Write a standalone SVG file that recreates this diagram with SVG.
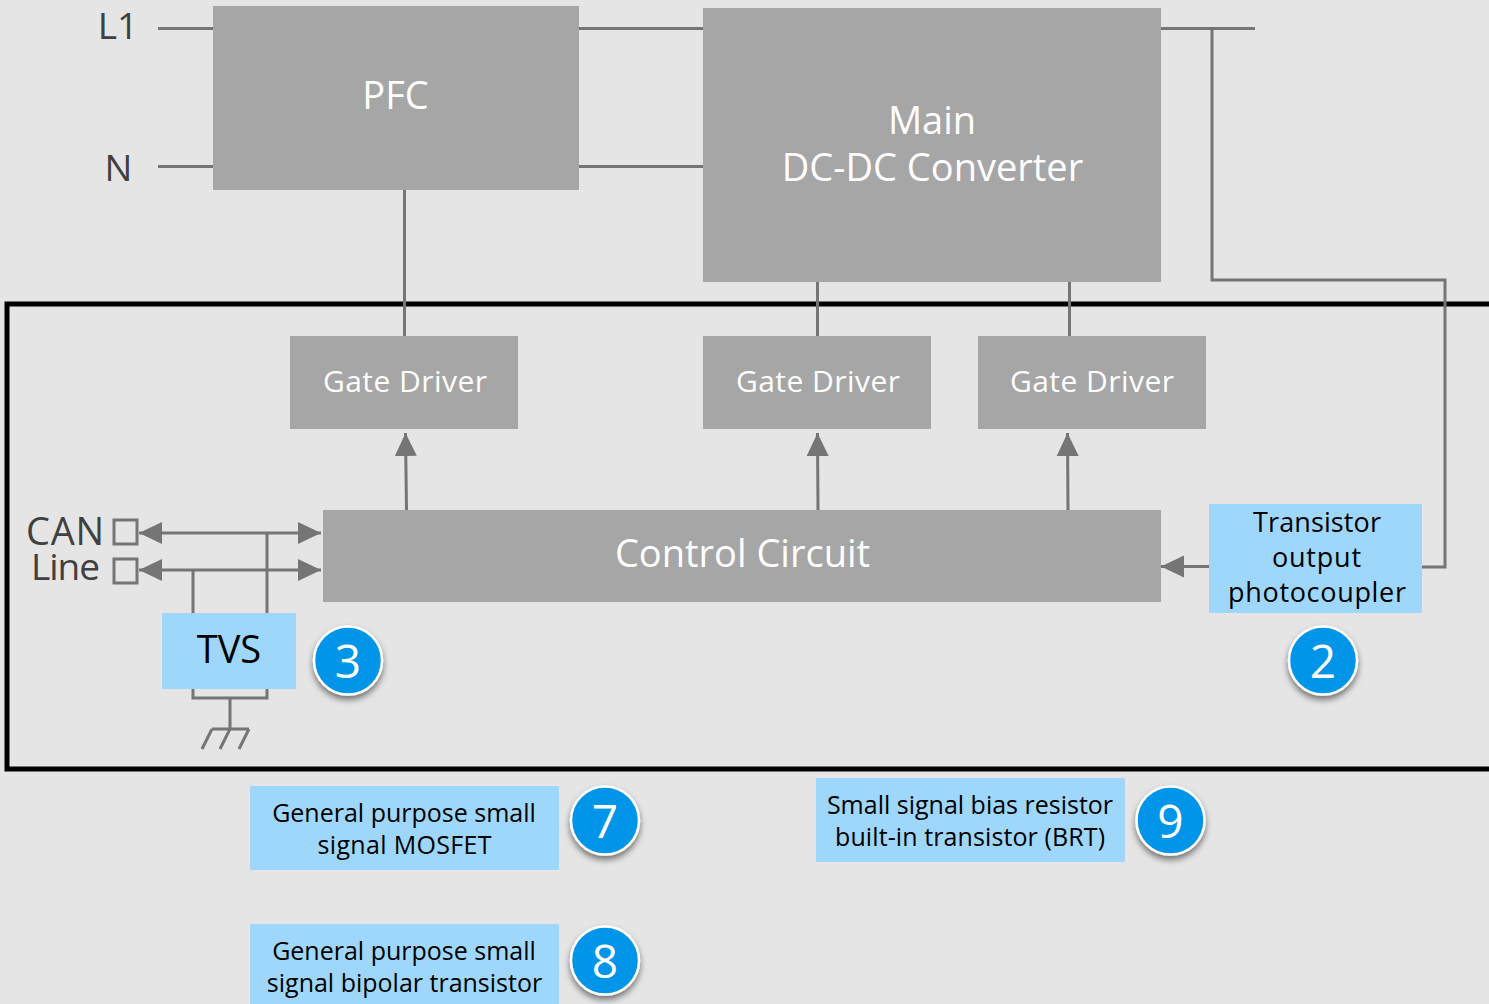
<svg xmlns="http://www.w3.org/2000/svg" width="1489" height="1004" viewBox="0 0 1489 1004">
<style>
text{font-family:"Open Sans","Noto Sans","Liberation Sans",sans-serif;text-anchor:middle}
.g{fill:#a6a6a6}
.b{fill:#9fd7fb}
.w{fill:#fff}
.k{fill:#000}
.d{fill:#404040}
.l{fill:none;stroke:#757575;stroke-width:3;stroke-linejoin:miter}
.c{fill:#0095e8;stroke:#fff;stroke-width:2.5;filter:url(#sh)}
</style>
<defs>
<filter id="sh" x="-30%" y="-30%" width="160%" height="170%"><feDropShadow dx="0" dy="4" stdDeviation="3" flood-color="#000" flood-opacity="0.5"/></filter>
<marker id="a" markerUnits="userSpaceOnUse" markerWidth="24" markerHeight="24" refX="23" refY="12" orient="auto-start-reverse"><path d="M0 1L23 12L0 23Z" fill="#757575"/></marker>
</defs>
<rect width="1489" height="1004" fill="#e5e5e5"/>
<rect id="frame" x="7" y="304" width="1500" height="465" fill="none" stroke="#000" stroke-width="5"/>
<g id="connectors">
<path class="l" d="M158 28.500H213M158 166.500H213M579 28.500H703M579 166.500H703M1161 28.500H1255M1212 28.500V280H1445V567H1422M404.500 190V336M817.500 282V336M1069.500 282V336"/>
<path class="l" d="M406.500 510L405.500 433" marker-end="url(#a)"/>
<path class="l" d="M818 510L817.500 433" marker-end="url(#a)"/>
<path class="l" d="M1068 510L1067.500 433" marker-end="url(#a)"/>
<path class="l" d="M1209 566.500H1161" marker-end="url(#a)"/>
<path class="l" d="M139 533H321" marker-start="url(#a)" marker-end="url(#a)"/>
<path class="l" d="M139 570H321" marker-start="url(#a)" marker-end="url(#a)"/>
<path class="l" d="M193 570V613M267 533V613M193 689V698H267V689M230 698V729M212 729H249M212 729L202 749M230 729L220 749M249 729L239 749"/>
<rect class="l" x="114" y="520" width="23" height="24"/>
<rect class="l" x="114" y="559" width="23" height="24"/>
</g>
<g id="pfc"><rect class="g" x="213" y="6" width="366" height="184"/><text class="w" x="395.500" y="109" font-size="38">PFC</text></g>
<g id="main"><rect class="g" x="703" y="8" width="458" height="274"/><text class="w" x="932" y="133.500" font-size="38">Main</text><text class="w" x="932.500" y="180.500" font-size="38">DC-DC Converter</text></g>
<g id="gd1"><rect class="g" x="290" y="336" width="228" height="93"/><text class="w" x="405" y="392" font-size="30" textLength="164" lengthAdjust="spacing">Gate Driver</text></g>
<g id="gd2"><rect class="g" x="703" y="336" width="228" height="93"/><text class="w" x="818" y="392" font-size="30" textLength="164" lengthAdjust="spacing">Gate Driver</text></g>
<g id="gd3"><rect class="g" x="978" y="336" width="228" height="93"/><text class="w" x="1092" y="392" font-size="30" textLength="164" lengthAdjust="spacing">Gate Driver</text></g>
<g id="control"><rect class="g" x="323" y="510" width="838" height="92"/><text class="w" x="742.500" y="567" font-size="38">Control Circuit</text></g>
<g id="labels"><text class="d" x="118" y="38.500" font-size="37">L1</text><text class="d" x="118.500" y="180.500" font-size="37">N</text><text class="d" x="65" y="545" font-size="38" textLength="78" lengthAdjust="spacing">CAN</text><text class="d" x="65.500" y="580" font-size="37" textLength="69" lengthAdjust="spacing">Line</text></g>
<g id="photocoupler"><rect class="b" x="1209" y="504" width="213" height="109"/><text class="k" x="1317" y="532" font-size="27" textLength="128" lengthAdjust="spacing">Transistor</text><text class="k" x="1316.500" y="567" font-size="27" textLength="89" lengthAdjust="spacing">output</text><text class="k" x="1317" y="602" font-size="27" textLength="178" lengthAdjust="spacing">photocoupler</text></g>
<g id="tvs"><rect class="b" x="162" y="613" width="134" height="76"/><text class="k" x="229" y="663" font-size="38">TVS</text></g>
<g id="mosfet"><rect class="b" x="250" y="786" width="309" height="84"/><text class="k" x="404" y="822" font-size="25">General purpose small</text><text class="k" x="404.500" y="854" font-size="25" textLength="174" lengthAdjust="spacing">signal MOSFET</text></g>
<g id="bipolar"><rect class="b" x="250" y="924" width="309" height="80"/><text class="k" x="404" y="960" font-size="25">General purpose small</text><text class="k" x="404.500" y="992" font-size="25">signal bipolar transistor</text></g>
<g id="brt"><rect class="b" x="816" y="778" width="309" height="84"/><text class="k" x="970" y="814" font-size="25">Small signal bias resistor</text><text class="k" x="970" y="846" font-size="25" textLength="270" lengthAdjust="spacing">built-in transistor (BRT)</text></g>
<g id="badge3"><circle class="c" cx="348" cy="660.500" r="34"/><text class="w" x="348" y="678" font-size="46">3</text></g>
<g id="badge2"><circle class="c" cx="1323" cy="660.500" r="34"/><text class="w" x="1323" y="678" font-size="46">2</text></g>
<g id="badge7"><circle class="c" cx="605" cy="820.500" r="34"/><text class="w" x="605" y="838" font-size="46">7</text></g>
<g id="badge8"><circle class="c" cx="605" cy="960.500" r="34"/><text class="w" x="605" y="978" font-size="46">8</text></g>
<g id="badge9"><circle class="c" cx="1170.500" cy="820.500" r="34"/><text class="w" x="1170.500" y="838" font-size="46">9</text></g>
</svg>
